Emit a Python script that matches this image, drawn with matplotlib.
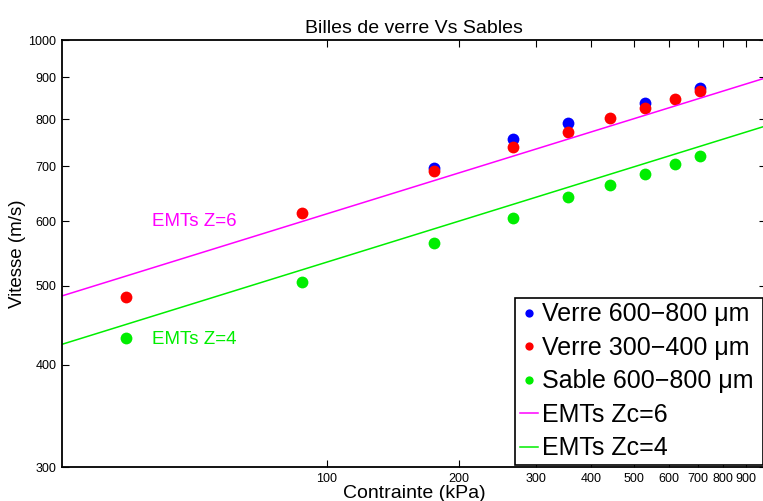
import numpy as np
import matplotlib
matplotlib.use("Agg")
import matplotlib.pyplot as plt
from matplotlib.ticker import FixedLocator, NullLocator, NullFormatter

plt.rcParams["font.family"] = ["Liberation Sans", "DejaVu Sans"]

# ── data ────────────────────────────────────────────────────────────────────
p_all   = [35, 88, 176, 265, 354, 441, 530, 620, 707]     # kPa
p_blue  = [176, 265, 354, 530, 707]
v_blue  = [697, 757, 791, 838, 873]                        # Verre 600-800 um
v_red   = [484, 614, 692, 740, 772, 803, 825, 847, 865]    # Verre 300-400 um
v_green = [431, 505, 564, 605, 642, 664, 686, 704, 721]    # Sable 600-800 um

emt_p  = [25, 1000]
emt_z6 = [486, 899]
emt_z4 = [424, 785]

xticks = [100, 200, 300, 400, 500, 600, 700, 800, 900]
yticks = [300, 400, 500, 600, 700, 800, 900, 1000]

# ── figure ──────────────────────────────────────────────────────────────────
fig = plt.figure(figsize=(7.63, 5.01), dpi=100)
ax = fig.add_axes([62 / 763, 1 - 467 / 501, 704 / 763, 427 / 501])

ms = 8.5
ax.plot(p_blue, v_blue, "o", color="#0000ff", ms=ms, mec="none", label="Verre 600\u2212800 \u03bcm")
ax.plot(p_all, v_red, "o", color="#ff0000", ms=ms, mec="none", label="Verre 300\u2212400 \u03bcm")
ax.plot(p_all, v_green, "o", color="#00ee00", ms=ms, mec="none", label="Sable 600\u2212800 \u03bcm")
ax.plot(emt_p, emt_z6, color="#ff00ff", lw=1.1, label="EMTs Zc=6")
ax.plot(emt_p, emt_z4, color="#00ee00", lw=1.1, label="EMTs Zc=4")

ax.set_xscale("log")
ax.set_yscale("log")
ax.set_xlim(25, 1000)
ax.set_ylim(300, 1000)

ax.xaxis.set_major_locator(FixedLocator(xticks))
ax.xaxis.set_minor_locator(NullLocator())
ax.xaxis.set_minor_formatter(NullFormatter())
ax.set_xticklabels([str(t) for t in xticks])
ax.yaxis.set_major_locator(FixedLocator(yticks))
ax.yaxis.set_minor_locator(NullLocator())
ax.yaxis.set_minor_formatter(NullFormatter())
ax.set_yticklabels([str(t) for t in yticks])

ax.tick_params(direction="in", length=5, width=0.8, labelsize=9, top=True, right=True, pad=4)
for s in ax.spines.values():
    s.set_linewidth(1.3)

ax.text(40, 600, "EMTs Z=6", color="#ff00ff", fontsize=13.5, va="center")
ax.text(40, 430, "EMTs Z=4", color="#00ee00", fontsize=13.5, va="center")

ax.set_title("Billes de verre Vs Sables", fontsize=14, pad=5)
ax.set_xlabel("Contrainte (kPa)", fontsize=14, labelpad=0)
ax.set_ylabel("Vitesse (m/s)", fontsize=13.5, labelpad=2)

leg = ax.legend(loc="upper left", bbox_to_anchor=(0.6435, 0.296, 0.996 - 0.6435, 0.1),
                mode="expand", fontsize=18,
                frameon=True, fancybox=False, edgecolor="black", framealpha=1,
                handlelength=0.75, handletextpad=0.15, borderpad=0.18,
                labelspacing=0.38, borderaxespad=0, markerscale=0.7)
leg.get_frame().set_linewidth(1.2)

fig.savefig("out.png", dpi=100)
